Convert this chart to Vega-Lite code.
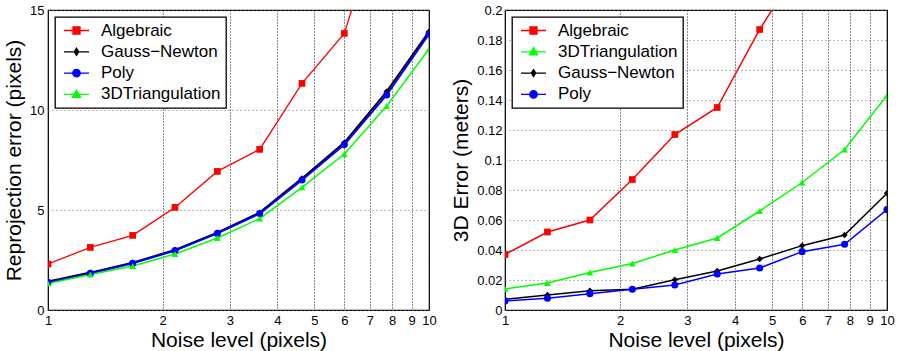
{
  "$schema": "https://vega.github.io/schema/vega-lite/v6.json",
  "padding": {"left": 2, "top": 3, "right": 5, "bottom": 0},
  "background": "white",
  "spacing": 13,
  "config": {
    "font": "Liberation Sans",
    "view": {"stroke": "black", "strokeWidth": 1.2},
    "axis": {
      "labelFont": "Liberation Sans",
      "titleFont": "Liberation Sans",
      "labelFontSize": 13,
      "titleFontSize": 21,
      "titleFontWeight": "normal",
      "labelColor": "black",
      "titleColor": "black",
      "ticks": false,
      "domain": false,
      "labelPadding": 4,
      "titlePadding": 3
    },
    "axisX": {"gridColor": "black", "gridDash": [1, 2], "gridWidth": 1, "gridOpacity": 0.9},
    "axisY": {"gridColor": "#777", "gridDash": [1, 3], "gridWidth": 1, "gridOpacity": 1},
    "legend": {
      "orient": "top-left",
      "offset": 7,
      "strokeColor": "black",
      "strokeWidth": 1.3,
      "fillColor": "white",
      "padding": 5,
      "labelFont": "Liberation Sans",
      "labelFontSize": 17,
      "labelColor": "black",
      "rowPadding": 3.3,
      "symbolSize": 100,
      "symbolOffset": 8,
      "labelOffset": 16,
      "symbolStrokeWidth": 1.3,
      "title": null
    }
  },
  "datasets": {
    "reproj": [
      {"noise": 1, "series": "Algebraic", "err": 2.3},
      {"noise": 1.2915, "series": "Algebraic", "err": 3.13},
      {"noise": 1.6681, "series": "Algebraic", "err": 3.73},
      {"noise": 2.1544, "series": "Algebraic", "err": 5.13},
      {"noise": 2.7826, "series": "Algebraic", "err": 6.93},
      {"noise": 3.5938, "series": "Algebraic", "err": 8.03},
      {"noise": 4.6416, "series": "Algebraic", "err": 11.33},
      {"noise": 5.9948, "series": "Algebraic", "err": 13.83},
      {"noise": 7.7426, "series": "Algebraic", "err": 20.6},
      {"noise": 10, "series": "Algebraic", "err": 27},
      {"noise": 1, "series": "Gauss\u2212Newton", "err": 1.42},
      {"noise": 1.2915, "series": "Gauss\u2212Newton", "err": 1.87},
      {"noise": 1.6681, "series": "Gauss\u2212Newton", "err": 2.37},
      {"noise": 2.1544, "series": "Gauss\u2212Newton", "err": 3.0},
      {"noise": 2.7826, "series": "Gauss\u2212Newton", "err": 3.87},
      {"noise": 3.5938, "series": "Gauss\u2212Newton", "err": 4.87},
      {"noise": 4.6416, "series": "Gauss\u2212Newton", "err": 6.58},
      {"noise": 5.9948, "series": "Gauss\u2212Newton", "err": 8.37},
      {"noise": 7.7426, "series": "Gauss\u2212Newton", "err": 10.92},
      {"noise": 10, "series": "Gauss\u2212Newton", "err": 13.92},
      {"noise": 1, "series": "Poly", "err": 1.38},
      {"noise": 1.2915, "series": "Poly", "err": 1.83},
      {"noise": 1.6681, "series": "Poly", "err": 2.33},
      {"noise": 2.1544, "series": "Poly", "err": 2.97},
      {"noise": 2.7826, "series": "Poly", "err": 3.83},
      {"noise": 3.5938, "series": "Poly", "err": 4.82},
      {"noise": 4.6416, "series": "Poly", "err": 6.5},
      {"noise": 5.9948, "series": "Poly", "err": 8.27},
      {"noise": 7.7426, "series": "Poly", "err": 10.75},
      {"noise": 10, "series": "Poly", "err": 13.8},
      {"noise": 1, "series": "3DTriangulation", "err": 1.32},
      {"noise": 1.2915, "series": "3DTriangulation", "err": 1.77},
      {"noise": 1.6681, "series": "3DTriangulation", "err": 2.2},
      {"noise": 2.1544, "series": "3DTriangulation", "err": 2.8},
      {"noise": 2.7826, "series": "3DTriangulation", "err": 3.6},
      {"noise": 3.5938, "series": "3DTriangulation", "err": 4.57},
      {"noise": 4.6416, "series": "3DTriangulation", "err": 6.13},
      {"noise": 5.9948, "series": "3DTriangulation", "err": 7.8},
      {"noise": 7.7426, "series": "3DTriangulation", "err": 10.2},
      {"noise": 10, "series": "3DTriangulation", "err": 13.05}
    ],
    "err3d": [
      {"noise": 1, "series": "Algebraic", "err": 0.037},
      {"noise": 1.2915, "series": "Algebraic", "err": 0.052},
      {"noise": 1.6681, "series": "Algebraic", "err": 0.06},
      {"noise": 2.1544, "series": "Algebraic", "err": 0.087},
      {"noise": 2.7826, "series": "Algebraic", "err": 0.117},
      {"noise": 3.5938, "series": "Algebraic", "err": 0.135},
      {"noise": 4.6416, "series": "Algebraic", "err": 0.187},
      {"noise": 5.9948, "series": "Algebraic", "err": 0.232},
      {"noise": 7.7426, "series": "Algebraic", "err": 0.28},
      {"noise": 10, "series": "Algebraic", "err": 0.33},
      {"noise": 1, "series": "3DTriangulation", "err": 0.014},
      {"noise": 1.2915, "series": "3DTriangulation", "err": 0.018},
      {"noise": 1.6681, "series": "3DTriangulation", "err": 0.025},
      {"noise": 2.1544, "series": "3DTriangulation", "err": 0.031},
      {"noise": 2.7826, "series": "3DTriangulation", "err": 0.040},
      {"noise": 3.5938, "series": "3DTriangulation", "err": 0.048},
      {"noise": 4.6416, "series": "3DTriangulation", "err": 0.066},
      {"noise": 5.9948, "series": "3DTriangulation", "err": 0.085},
      {"noise": 7.7426, "series": "3DTriangulation", "err": 0.107},
      {"noise": 10, "series": "3DTriangulation", "err": 0.143},
      {"noise": 1, "series": "Gauss\u2212Newton", "err": 0.0071},
      {"noise": 1.2915, "series": "Gauss\u2212Newton", "err": 0.010},
      {"noise": 1.6681, "series": "Gauss\u2212Newton", "err": 0.0129},
      {"noise": 2.1544, "series": "Gauss\u2212Newton", "err": 0.0138},
      {"noise": 2.7826, "series": "Gauss\u2212Newton", "err": 0.0202},
      {"noise": 3.5938, "series": "Gauss\u2212Newton", "err": 0.026},
      {"noise": 4.6416, "series": "Gauss\u2212Newton", "err": 0.034},
      {"noise": 5.9948, "series": "Gauss\u2212Newton", "err": 0.0429},
      {"noise": 7.7426, "series": "Gauss\u2212Newton", "err": 0.050},
      {"noise": 10, "series": "Gauss\u2212Newton", "err": 0.0778},
      {"noise": 1, "series": "Poly", "err": 0.006},
      {"noise": 1.2915, "series": "Poly", "err": 0.0078},
      {"noise": 1.6681, "series": "Poly", "err": 0.0109},
      {"noise": 2.1544, "series": "Poly", "err": 0.0138},
      {"noise": 2.7826, "series": "Poly", "err": 0.0167},
      {"noise": 3.5938, "series": "Poly", "err": 0.024},
      {"noise": 4.6416, "series": "Poly", "err": 0.028},
      {"noise": 5.9948, "series": "Poly", "err": 0.0389},
      {"noise": 7.7426, "series": "Poly", "err": 0.0438},
      {"noise": 10, "series": "Poly", "err": 0.0669}
    ]
  },
  "resolve": {"scale": {"color": "independent", "shape": "independent", "stroke": "independent"}, "legend": {"color": "independent", "shape": "independent", "stroke": "independent"}},
  "hconcat": [
    {
      "width": 381,
      "height": 300,
      "data": {"name": "reproj"},
      "encoding": {
        "x": {"field": "noise", "type": "quantitative", "scale": {"type": "log", "domain": [1, 10]},
              "axis": {"values": [1, 2, 3, 4, 5, 6, 7, 8, 9, 10], "format": "d", "title": "Noise level (pixels)", "grid": true, "labelFlush": false, "titlePadding": 2}},
        "y": {"field": "err", "type": "quantitative", "scale": {"domain": [0, 15], "nice": false},
              "axis": {"values": [0, 5, 10, 15], "format": "d", "title": "Reprojection error (pixels)", "grid": true, "titlePadding": 5}}
      },
      "layer": [
        {
          "transform": [{"filter": "datum.series == 'Algebraic'"}],
          "mark": {"type": "line", "clip": true, "color": "#ff0000", "strokeWidth": 1.3}
        },
        {
          "transform": [{"filter": "datum.series == 'Gauss\u2212Newton'"}],
          "mark": {"type": "line", "clip": true, "color": "#000000", "strokeWidth": 2}
        },
        {
          "transform": [{"filter": "datum.series == 'Poly'"}],
          "mark": {"type": "line", "clip": true, "color": "#0000ff", "strokeWidth": 2}
        },
        {
          "transform": [{"filter": "datum.series == '3DTriangulation'"}],
          "mark": {"type": "line", "clip": true, "color": "#00ff00", "strokeWidth": 1.5}
        },
        {
          "transform": [{"filter": "datum.series == 'Algebraic'"}],
          "mark": {"type": "point", "filled": true, "opacity": 1, "clip": true, "shape": "square", "size": 45, "color": "#ff0000"}
        },
        {
          "transform": [{"filter": "datum.series == 'Gauss\u2212Newton'"}],
          "mark": {"type": "point", "filled": true, "opacity": 1, "clip": true, "shape": "diamond", "size": 40, "color": "#000000"}
        },
        {
          "transform": [{"filter": "datum.series == 'Poly'"}],
          "mark": {"type": "point", "filled": true, "opacity": 1, "clip": true, "shape": "circle", "size": 50, "color": "#0000ff"}
        },
        {
          "transform": [{"filter": "datum.series == '3DTriangulation'"}],
          "mark": {"type": "point", "filled": true, "opacity": 1, "clip": true, "shape": "triangle-up", "size": 45, "color": "#00ff00"}
        },
        {
          "transform": [{"filter": "datum.err < -1"}],
          "mark": {"type": "point", "filled": true, "opacity": 1, "size": 100, "strokeWidth": 1.3},
          "encoding": {
            "color": {"field": "series", "type": "nominal", "scale": {"domain": ["Algebraic", "Gauss\u2212Newton", "Poly", "3DTriangulation"], "range": ["#ff0000", "#000000", "#0000ff", "#00ff00"]}},
            "stroke": {"field": "series", "type": "nominal", "scale": {"domain": ["Algebraic", "Gauss\u2212Newton", "Poly", "3DTriangulation"], "range": ["#ff0000", "#000000", "#0000ff", "#00ff00"]}},
            "shape": {"field": "series", "type": "nominal", "scale": {"domain": ["Algebraic", "Gauss\u2212Newton", "Poly", "3DTriangulation"], "range": [
              "M-2.5,0H2.5M-0.7,-0.7H0.7V0.7H-0.7Z",
              "M-2.5,0H2.5M0,-0.7L0.45,0L0,0.7L-0.45,0Z",
              "M-2.5,0H2.5M0.75,0A0.75,0.75,0,1,1,-0.75,0A0.75,0.75,0,1,1,0.75,0Z",
              "M-2.5,0H2.5M0,-0.85L0.8,0.6H-0.8Z"]}}
          }
        }
      ]
    },
    {
      "width": 382,
      "height": 300,
      "data": {"name": "err3d"},
      "encoding": {
        "x": {"field": "noise", "type": "quantitative", "scale": {"type": "log", "domain": [1, 10]},
              "axis": {"values": [1, 2, 3, 4, 5, 6, 7, 8, 9, 10], "format": "d", "title": "Noise level (pixels)", "grid": true, "labelFlush": false, "titlePadding": 2}},
        "y": {"field": "err", "type": "quantitative", "scale": {"domain": [0, 0.2], "nice": false},
              "axis": {"values": [0, 0.02, 0.04, 0.06, 0.08, 0.1, 0.12, 0.14, 0.16, 0.18, 0.2], "format": "~g", "title": "3D Error (meters)", "grid": true, "labelPadding": 3, "titlePadding": 5}}
      },
      "layer": [
        {
          "transform": [{"filter": "datum.series == 'Algebraic'"}],
          "mark": {"type": "line", "clip": true, "color": "#ff0000", "strokeWidth": 1.5}
        },
        {
          "transform": [{"filter": "datum.series == '3DTriangulation'"}],
          "mark": {"type": "line", "clip": true, "color": "#00ff00", "strokeWidth": 1.5}
        },
        {
          "transform": [{"filter": "datum.series == 'Gauss\u2212Newton'"}],
          "mark": {"type": "line", "clip": true, "color": "#000000", "strokeWidth": 1.5}
        },
        {
          "transform": [{"filter": "datum.series == 'Poly'"}],
          "mark": {"type": "line", "clip": true, "color": "#0000ff", "strokeWidth": 1.5}
        },
        {
          "transform": [{"filter": "datum.series == 'Algebraic'"}],
          "mark": {"type": "point", "filled": true, "opacity": 1, "clip": true, "shape": "square", "size": 45, "color": "#ff0000"}
        },
        {
          "transform": [{"filter": "datum.series == '3DTriangulation'"}],
          "mark": {"type": "point", "filled": true, "opacity": 1, "clip": true, "shape": "triangle-up", "size": 45, "color": "#00ff00"}
        },
        {
          "transform": [{"filter": "datum.series == 'Gauss\u2212Newton'"}],
          "mark": {"type": "point", "filled": true, "opacity": 1, "clip": true, "shape": "diamond", "size": 40, "color": "#000000"}
        },
        {
          "transform": [{"filter": "datum.series == 'Poly'"}],
          "mark": {"type": "point", "filled": true, "opacity": 1, "clip": true, "shape": "circle", "size": 50, "color": "#0000ff"}
        },
        {
          "transform": [{"filter": "datum.err < -1"}],
          "mark": {"type": "point", "filled": true, "opacity": 1, "size": 100, "strokeWidth": 1.3},
          "encoding": {
            "color": {"field": "series", "type": "nominal", "scale": {"domain": ["Algebraic", "3DTriangulation", "Gauss\u2212Newton", "Poly"], "range": ["#ff0000", "#00ff00", "#000000", "#0000ff"]}},
            "stroke": {"field": "series", "type": "nominal", "scale": {"domain": ["Algebraic", "3DTriangulation", "Gauss\u2212Newton", "Poly"], "range": ["#ff0000", "#00ff00", "#000000", "#0000ff"]}},
            "shape": {"field": "series", "type": "nominal", "scale": {"domain": ["Algebraic", "3DTriangulation", "Gauss\u2212Newton", "Poly"], "range": [
              "M-2.5,0H2.5M-0.7,-0.7H0.7V0.7H-0.7Z",
              "M-2.5,0H2.5M0,-0.85L0.8,0.6H-0.8Z",
              "M-2.5,0H2.5M0,-0.7L0.45,0L0,0.7L-0.45,0Z",
              "M-2.5,0H2.5M0.75,0A0.75,0.75,0,1,1,-0.75,0A0.75,0.75,0,1,1,0.75,0Z"]}}
          }
        }
      ]
    }
  ]
}
